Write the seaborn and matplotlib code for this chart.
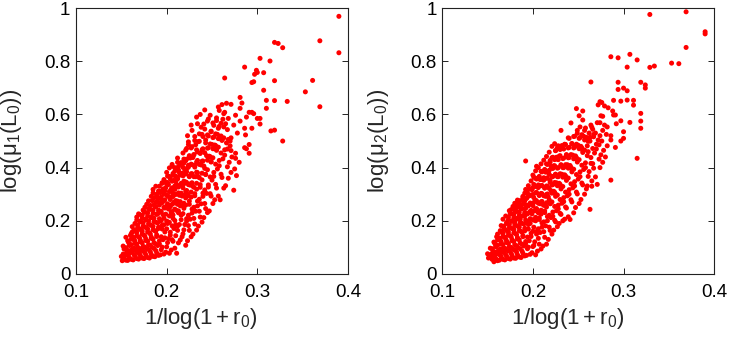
import numpy as np
import matplotlib
matplotlib.use("Agg")
import matplotlib.pyplot as plt
import seaborn as sns

sns.set_style("ticks")
plt.rcParams['font.family'] = ['Liberation Sans', 'DejaVu Sans']
plt.rcParams['mathtext.fontset'] = 'custom'
plt.rcParams['mathtext.rm'] = 'Liberation Sans'
plt.rcParams['mathtext.it'] = 'Liberation Sans:italic'
plt.rcParams['mathtext.default'] = 'regular'

# ---- data: left panel, log(mu1(L0)) vs 1/log(1+r0) ----
x1, y1 = [], []
x1 += [0.151, 0.153, 0.150, 0.152]
y1 += [0.050, 0.058, 0.066, 0.075]
x1 += [0.155, 0.152, 0.154, 0.156, 0.153, 0.152]
y1 += [0.052, 0.062, 0.071, 0.083, 0.094, 0.105]
x1 += [0.157, 0.159, 0.156, 0.158, 0.155, 0.159, 0.157, 0.155]
y1 += [0.051, 0.060, 0.074, 0.088, 0.099, 0.112, 0.125, 0.138]
x1 += [0.161, 0.158, 0.160, 0.162, 0.159, 0.158, 0.161, 0.160, 0.162]
y1 += [0.055, 0.066, 0.080, 0.093, 0.107, 0.118, 0.131, 0.145, 0.158]
x1 += [0.163, 0.165, 0.162, 0.164, 0.161, 0.165, 0.163, 0.161, 0.164, 0.162]
y1 += [0.053, 0.068, 0.084, 0.097, 0.110, 0.124, 0.139, 0.152, 0.166, 0.178]
x1 += [0.167, 0.164, 0.166, 0.168, 0.165, 0.164, 0.167, 0.166, 0.168, 0.165, 0.167]
y1 += [0.058, 0.072, 0.087, 0.101, 0.115, 0.129, 0.143, 0.160, 0.175, 0.190, 0.203]
x1 += [0.169, 0.171, 0.168, 0.170, 0.167, 0.171, 0.169, 0.167, 0.170, 0.168, 0.171, 0.167, 0.169]
y1 += [0.056, 0.069, 0.082, 0.096, 0.112, 0.127, 0.140, 0.156, 0.170, 0.185, 0.199, 0.214, 0.226]
x1 += [0.173, 0.170, 0.172, 0.174, 0.171, 0.170, 0.173, 0.172, 0.174, 0.171, 0.173, 0.170, 0.174]
y1 += [0.060, 0.075, 0.090, 0.104, 0.121, 0.136, 0.150, 0.165, 0.180, 0.196, 0.210, 0.224, 0.240]
x1 += [0.175, 0.177, 0.174, 0.176, 0.173, 0.177, 0.175, 0.173, 0.176, 0.174, 0.177, 0.173, 0.175, 0.176]
y1 += [0.058, 0.072, 0.086, 0.101, 0.117, 0.132, 0.146, 0.161, 0.177, 0.193, 0.207, 0.221, 0.236, 0.251]
x1 += [0.179, 0.176, 0.178, 0.180, 0.177, 0.176, 0.179, 0.178, 0.180, 0.177, 0.179, 0.176, 0.180, 0.178]
y1 += [0.062, 0.080, 0.095, 0.110, 0.126, 0.142, 0.158, 0.172, 0.188, 0.203, 0.218, 0.232, 0.246, 0.262]
x1 += [0.181, 0.183, 0.180, 0.182, 0.179, 0.183, 0.181, 0.179, 0.182, 0.180, 0.183, 0.179, 0.181, 0.182, 0.180]
y1 += [0.060, 0.074, 0.092, 0.108, 0.123, 0.139, 0.155, 0.170, 0.185, 0.200, 0.215, 0.230, 0.244, 0.258, 0.275]
x1 += [0.185, 0.182, 0.184, 0.186, 0.183, 0.182, 0.185, 0.184, 0.186, 0.183, 0.185, 0.182, 0.186, 0.184, 0.183, 0.185]
y1 += [0.066, 0.083, 0.100, 0.118, 0.134, 0.150, 0.166, 0.181, 0.197, 0.212, 0.228, 0.243, 0.260, 0.276, 0.292, 0.305]
x1 += [0.187, 0.189, 0.186, 0.188, 0.185, 0.189, 0.187, 0.185, 0.188, 0.186, 0.189, 0.185, 0.187, 0.188, 0.186, 0.189, 0.185]
y1 += [0.065, 0.079, 0.096, 0.113, 0.131, 0.147, 0.163, 0.179, 0.195, 0.210, 0.226, 0.241, 0.255, 0.270, 0.287, 0.300, 0.318]
x1 += [0.191, 0.188, 0.190, 0.192, 0.189, 0.188, 0.191, 0.190, 0.192, 0.189, 0.191, 0.188, 0.192, 0.190, 0.189, 0.191, 0.188]
y1 += [0.070, 0.088, 0.107, 0.125, 0.141, 0.160, 0.176, 0.192, 0.208, 0.224, 0.240, 0.253, 0.268, 0.283, 0.297, 0.312, 0.330]
x1 += [0.193, 0.195, 0.192, 0.194, 0.191, 0.195, 0.193, 0.191, 0.194, 0.192, 0.195, 0.191, 0.193, 0.194, 0.192, 0.195]
y1 += [0.072, 0.101, 0.113, 0.140, 0.171, 0.183, 0.199, 0.228, 0.236, 0.259, 0.277, 0.284, 0.306, 0.311, 0.330, 0.343]
x1 += [0.197, 0.194, 0.196, 0.198, 0.195, 0.194, 0.197, 0.196, 0.198, 0.195, 0.197, 0.194, 0.198, 0.196, 0.195, 0.197]
y1 += [0.075, 0.091, 0.129, 0.158, 0.169, 0.201, 0.210, 0.223, 0.248, 0.268, 0.275, 0.290, 0.313, 0.320, 0.341, 0.355]
x1 += [0.199, 0.201, 0.198, 0.200, 0.197, 0.201, 0.199, 0.197, 0.200, 0.198, 0.201, 0.197, 0.199, 0.200, 0.198, 0.201]
y1 += [0.082, 0.118, 0.136, 0.170, 0.185, 0.196, 0.225, 0.251, 0.256, 0.279, 0.292, 0.300, 0.324, 0.338, 0.347, 0.368]
x1 += [0.203, 0.200, 0.202, 0.204, 0.201, 0.200, 0.203, 0.202, 0.204, 0.201, 0.203, 0.200, 0.204, 0.202, 0.201, 0.203, 0.200]
y1 += [0.078, 0.102, 0.133, 0.157, 0.190, 0.199, 0.218, 0.244, 0.253, 0.264, 0.291, 0.298, 0.311, 0.336, 0.344, 0.367, 0.382]
x1 += [0.205, 0.207, 0.204, 0.206, 0.203, 0.207, 0.205, 0.203, 0.206, 0.204, 0.207, 0.203, 0.205, 0.206, 0.204, 0.207, 0.203, 0.206]
y1 += [0.090, 0.123, 0.146, 0.181, 0.194, 0.222, 0.231, 0.257, 0.262, 0.280, 0.303, 0.310, 0.319, 0.349, 0.358, 0.371, 0.399, 0.412]
x1 += [0.209, 0.206, 0.208, 0.210, 0.207, 0.206, 0.209, 0.208, 0.210, 0.207, 0.209, 0.206, 0.210, 0.208, 0.207, 0.209, 0.206]
y1 += [0.097, 0.129, 0.171, 0.186, 0.209, 0.235, 0.244, 0.270, 0.276, 0.291, 0.318, 0.324, 0.347, 0.352, 0.378, 0.387, 0.405]
x1 += [0.211, 0.213, 0.210, 0.212, 0.209, 0.213, 0.211, 0.209, 0.212, 0.210, 0.213, 0.209, 0.211, 0.212, 0.210, 0.213, 0.209, 0.212]
y1 += [0.078, 0.117, 0.144, 0.180, 0.201, 0.230, 0.239, 0.267, 0.274, 0.299, 0.305, 0.331, 0.336, 0.360, 0.368, 0.391, 0.400, 0.420]
x1 += [0.215, 0.212, 0.214, 0.216, 0.213, 0.212, 0.215, 0.214, 0.216, 0.213, 0.215, 0.212, 0.216, 0.214, 0.213, 0.215, 0.212]
y1 += [0.128, 0.164, 0.186, 0.221, 0.237, 0.262, 0.272, 0.296, 0.304, 0.327, 0.335, 0.357, 0.374, 0.381, 0.404, 0.414, 0.436]
x1 += [0.217, 0.219, 0.216, 0.218, 0.215, 0.219, 0.217, 0.215, 0.218, 0.216, 0.219, 0.215, 0.217, 0.218, 0.216, 0.219]
y1 += [0.140, 0.166, 0.204, 0.227, 0.256, 0.266, 0.293, 0.301, 0.324, 0.341, 0.349, 0.372, 0.379, 0.401, 0.419, 0.432]
x1 += [0.221, 0.218, 0.220, 0.222, 0.219, 0.218, 0.221, 0.220, 0.222, 0.219, 0.221, 0.218, 0.222, 0.220, 0.219, 0.221, 0.218, 0.222]
y1 += [0.108, 0.151, 0.186, 0.208, 0.247, 0.258, 0.286, 0.297, 0.314, 0.339, 0.346, 0.369, 0.385, 0.392, 0.417, 0.426, 0.455, 0.472]
x1 += [0.223, 0.225, 0.222, 0.224, 0.221, 0.225, 0.223, 0.221, 0.224, 0.222, 0.225, 0.221, 0.223, 0.224, 0.222, 0.225, 0.221, 0.224, 0.223]
y1 += [0.125, 0.164, 0.199, 0.221, 0.259, 0.274, 0.300, 0.311, 0.336, 0.344, 0.368, 0.376, 0.400, 0.409, 0.432, 0.440, 0.466, 0.487, 0.520]
x1 += [0.227, 0.224, 0.226, 0.228, 0.225, 0.224, 0.227, 0.226, 0.228, 0.225, 0.227, 0.224, 0.228, 0.226, 0.225, 0.227, 0.224, 0.228]
y1 += [0.140, 0.182, 0.206, 0.244, 0.262, 0.294, 0.308, 0.334, 0.343, 0.366, 0.377, 0.402, 0.411, 0.436, 0.445, 0.474, 0.497, 0.540]
x1 += [0.229, 0.231, 0.228, 0.230, 0.227, 0.231, 0.229, 0.227, 0.230, 0.228, 0.231, 0.227, 0.229, 0.230, 0.228, 0.231, 0.227]
y1 += [0.150, 0.188, 0.229, 0.251, 0.289, 0.302, 0.330, 0.341, 0.366, 0.377, 0.402, 0.413, 0.438, 0.449, 0.479, 0.502, 0.560]
x1 += [0.233, 0.230, 0.232, 0.234, 0.231, 0.230, 0.233, 0.232, 0.234, 0.231, 0.233, 0.230, 0.234, 0.232, 0.231, 0.233]
y1 += [0.165, 0.209, 0.236, 0.274, 0.294, 0.326, 0.341, 0.366, 0.381, 0.408, 0.421, 0.448, 0.459, 0.486, 0.517, 0.590]
x1 += [0.235, 0.237, 0.234, 0.236, 0.233, 0.237, 0.235, 0.233, 0.236, 0.234, 0.237, 0.233, 0.235, 0.236, 0.234]
y1 += [0.180, 0.214, 0.256, 0.281, 0.319, 0.336, 0.366, 0.383, 0.412, 0.427, 0.454, 0.467, 0.498, 0.527, 0.565]
x1 += [0.239, 0.236, 0.238, 0.240, 0.237, 0.236, 0.239, 0.238, 0.240, 0.237, 0.239, 0.236, 0.240, 0.238, 0.237]
y1 += [0.195, 0.236, 0.264, 0.304, 0.326, 0.362, 0.379, 0.410, 0.425, 0.454, 0.467, 0.499, 0.517, 0.552, 0.600]
x1 += [0.241, 0.243, 0.240, 0.242, 0.239, 0.243, 0.241, 0.239, 0.242, 0.240, 0.243, 0.239, 0.241, 0.242]
y1 += [0.212, 0.246, 0.292, 0.316, 0.354, 0.374, 0.406, 0.424, 0.456, 0.471, 0.504, 0.525, 0.564, 0.617]
x1 += [0.245, 0.242, 0.244, 0.246, 0.243, 0.242, 0.245, 0.244, 0.246, 0.243, 0.245, 0.242, 0.246]
y1 += [0.231, 0.265, 0.303, 0.335, 0.375, 0.397, 0.428, 0.445, 0.475, 0.493, 0.523, 0.545, 0.583]
x1 += [0.247, 0.249, 0.246, 0.248, 0.245, 0.249, 0.247, 0.245, 0.248, 0.246, 0.249, 0.245]
y1 += [0.237, 0.293, 0.327, 0.365, 0.392, 0.423, 0.443, 0.473, 0.489, 0.519, 0.537, 0.575]
x1 += [0.251, 0.248, 0.250, 0.252, 0.249, 0.248, 0.251, 0.250, 0.252, 0.249, 0.251, 0.248]
y1 += [0.265, 0.302, 0.353, 0.382, 0.421, 0.441, 0.471, 0.487, 0.515, 0.535, 0.568, 0.597]
x1 += [0.253, 0.255, 0.252, 0.254, 0.251, 0.255, 0.253, 0.251, 0.254, 0.252, 0.255]
y1 += [0.279, 0.323, 0.367, 0.413, 0.437, 0.468, 0.485, 0.513, 0.527, 0.559, 0.587]
x1 += [0.257, 0.254, 0.256, 0.258, 0.255, 0.254, 0.257, 0.256, 0.258, 0.255, 0.257]
y1 += [0.293, 0.337, 0.395, 0.427, 0.465, 0.483, 0.509, 0.525, 0.555, 0.577, 0.628]
x1 += [0.259, 0.261, 0.258, 0.260, 0.257, 0.261, 0.259, 0.257, 0.260, 0.258, 0.261]
y1 += [0.279, 0.363, 0.407, 0.455, 0.477, 0.503, 0.517, 0.548, 0.567, 0.615, 0.637]
x1 += [0.263, 0.260, 0.262, 0.264, 0.261, 0.260, 0.263, 0.262, 0.264]
y1 += [0.323, 0.375, 0.433, 0.467, 0.503, 0.519, 0.553, 0.582, 0.608]
x1 += [0.265, 0.267, 0.264, 0.266, 0.263, 0.267, 0.265, 0.263, 0.266, 0.264]
y1 += [0.332, 0.403, 0.447, 0.493, 0.512, 0.543, 0.565, 0.603, 0.642, 0.737]
x1 += [0.268, 0.269, 0.267, 0.268, 0.271, 0.272, 0.270, 0.274, 0.275, 0.277, 0.276, 0.280]
y1 += [0.360, 0.420, 0.470, 0.506, 0.382, 0.440, 0.482, 0.315, 0.395, 0.370, 0.435, 0.420]
# sparse upper-right points
x1 += [0.390, 0.390, 0.369, 0.361, 0.353, 0.369, 0.333, 0.328, 0.319, 0.323, 0.328, 0.314,
       0.303, 0.286, 0.299, 0.300, 0.297, 0.307, 0.294, 0.296, 0.319, 0.307, 0.319, 0.310,
       0.310, 0.281, 0.283, 0.281, 0.271, 0.291, 0.294, 0.296, 0.300, 0.303, 0.303, 0.288,
       0.276, 0.281, 0.315, 0.319, 0.286, 0.294, 0.287, 0.270, 0.271, 0.291, 0.286, 0.288,
       0.291, 0.276, 0.271, 0.278, 0.274, 0.268]
y1 += [0.969, 0.832, 0.877, 0.728, 0.685, 0.629, 0.649, 0.500, 0.871, 0.867, 0.851, 0.801,
       0.811, 0.778, 0.766, 0.758, 0.751, 0.757, 0.720, 0.723, 0.727, 0.691, 0.652, 0.653,
       0.623, 0.664, 0.643, 0.623, 0.638, 0.608, 0.608, 0.603, 0.585, 0.585, 0.564, 0.590,
       0.597, 0.575, 0.538, 0.541, 0.548, 0.548, 0.523, 0.500, 0.512, 0.487, 0.475, 0.471,
       0.454, 0.454, 0.464, 0.530, 0.560, 0.585]

# ---- right panel, log(mu2(L0)) vs 1/log(1+r0) ----
x2, y2 = [], []
x2 += [0.151, 0.153, 0.150]
y2 += [0.060, 0.068, 0.076]
x2 += [0.155, 0.152, 0.154, 0.156, 0.153]
y2 += [0.055, 0.065, 0.075, 0.086, 0.097]
x2 += [0.157, 0.159, 0.156, 0.158, 0.155, 0.159, 0.157]
y2 += [0.046, 0.058, 0.070, 0.082, 0.095, 0.108, 0.120]
x2 += [0.161, 0.158, 0.160, 0.162, 0.159, 0.158, 0.161, 0.160]
y2 += [0.050, 0.062, 0.075, 0.089, 0.102, 0.115, 0.128, 0.140]
x2 += [0.163, 0.165, 0.162, 0.164, 0.161, 0.165, 0.163, 0.161, 0.164]
y2 += [0.052, 0.066, 0.080, 0.094, 0.108, 0.121, 0.135, 0.150, 0.163]
x2 += [0.167, 0.164, 0.166, 0.168, 0.165, 0.164, 0.167, 0.166, 0.168, 0.165]
y2 += [0.055, 0.070, 0.084, 0.098, 0.113, 0.127, 0.141, 0.156, 0.170, 0.182]
x2 += [0.169, 0.171, 0.168, 0.170, 0.167, 0.171, 0.169, 0.167, 0.170, 0.168, 0.171, 0.167]
y2 += [0.053, 0.067, 0.081, 0.095, 0.110, 0.124, 0.138, 0.152, 0.166, 0.180, 0.194, 0.206]
x2 += [0.173, 0.170, 0.172, 0.174, 0.171, 0.170, 0.173, 0.172, 0.174, 0.171, 0.173, 0.170, 0.174]
y2 += [0.058, 0.073, 0.088, 0.103, 0.118, 0.132, 0.146, 0.160, 0.175, 0.190, 0.204, 0.218, 0.238]
x2 += [0.175, 0.177, 0.174, 0.176, 0.173, 0.177, 0.175, 0.173, 0.176, 0.174, 0.177, 0.173, 0.175, 0.176]
y2 += [0.056, 0.070, 0.086, 0.100, 0.115, 0.130, 0.144, 0.158, 0.172, 0.186, 0.200, 0.214, 0.228, 0.242]
x2 += [0.179, 0.176, 0.178, 0.180, 0.177, 0.176, 0.179, 0.178, 0.180, 0.177, 0.179, 0.176, 0.180, 0.178]
y2 += [0.060, 0.078, 0.094, 0.110, 0.125, 0.140, 0.155, 0.170, 0.184, 0.198, 0.212, 0.226, 0.240, 0.254]
x2 += [0.181, 0.183, 0.180, 0.182, 0.179, 0.183, 0.181, 0.179, 0.182, 0.180, 0.183, 0.179, 0.181, 0.182, 0.180]
y2 += [0.059, 0.072, 0.090, 0.106, 0.122, 0.137, 0.152, 0.167, 0.182, 0.196, 0.210, 0.224, 0.238, 0.252, 0.266]
x2 += [0.185, 0.182, 0.184, 0.186, 0.183, 0.182, 0.185, 0.184, 0.186, 0.183, 0.185, 0.182, 0.186, 0.184, 0.183]
y2 += [0.064, 0.082, 0.098, 0.116, 0.132, 0.148, 0.163, 0.178, 0.193, 0.207, 0.221, 0.235, 0.249, 0.263, 0.278]
x2 += [0.187, 0.189, 0.186, 0.188, 0.185, 0.189, 0.187, 0.185, 0.188, 0.186, 0.189, 0.185, 0.187, 0.188, 0.186, 0.189]
y2 += [0.062, 0.078, 0.095, 0.112, 0.128, 0.144, 0.160, 0.176, 0.190, 0.205, 0.219, 0.233, 0.247, 0.261, 0.276, 0.292]
x2 += [0.191, 0.188, 0.190, 0.192, 0.189, 0.188, 0.191, 0.190, 0.192, 0.189, 0.191, 0.188, 0.192, 0.190, 0.189, 0.191, 0.192]
y2 += [0.068, 0.086, 0.105, 0.122, 0.140, 0.157, 0.172, 0.188, 0.203, 0.218, 0.232, 0.246, 0.260, 0.274, 0.288, 0.304, 0.425]
x2 += [0.193, 0.195, 0.192, 0.194, 0.191, 0.195, 0.193, 0.191, 0.194, 0.192, 0.195, 0.191, 0.193, 0.194, 0.192]
y2 += [0.070, 0.101, 0.114, 0.139, 0.162, 0.186, 0.195, 0.218, 0.226, 0.247, 0.256, 0.275, 0.284, 0.305, 0.318]
x2 += [0.197, 0.194, 0.196, 0.198, 0.195, 0.194, 0.197, 0.196, 0.198, 0.195, 0.197, 0.194, 0.198, 0.196, 0.195]
y2 += [0.074, 0.095, 0.125, 0.153, 0.169, 0.197, 0.208, 0.231, 0.239, 0.259, 0.267, 0.289, 0.297, 0.319, 0.332]
x2 += [0.199, 0.201, 0.198, 0.200, 0.197, 0.201, 0.199, 0.197, 0.200, 0.198, 0.201, 0.197, 0.199, 0.200, 0.198, 0.201]
y2 += [0.080, 0.107, 0.141, 0.161, 0.190, 0.203, 0.226, 0.235, 0.257, 0.265, 0.287, 0.295, 0.317, 0.325, 0.350, 0.364]
x2 += [0.203, 0.200, 0.202, 0.204, 0.201, 0.200, 0.203, 0.202, 0.204, 0.201, 0.203, 0.200, 0.204, 0.202, 0.201, 0.203, 0.200, 0.204]
y2 += [0.072, 0.103, 0.121, 0.160, 0.176, 0.204, 0.213, 0.238, 0.246, 0.269, 0.277, 0.299, 0.307, 0.329, 0.337, 0.360, 0.372, 0.405]
x2 += [0.205, 0.207, 0.204, 0.206, 0.203, 0.207, 0.205, 0.203, 0.206, 0.204, 0.207, 0.203, 0.205, 0.206, 0.204, 0.207, 0.203]
y2 += [0.086, 0.112, 0.150, 0.170, 0.200, 0.211, 0.235, 0.244, 0.266, 0.275, 0.297, 0.305, 0.327, 0.335, 0.357, 0.367, 0.388]
x2 += [0.209, 0.206, 0.208, 0.210, 0.207, 0.206, 0.209, 0.208, 0.210, 0.207, 0.209, 0.206, 0.210, 0.208, 0.207, 0.209, 0.206]
y2 += [0.094, 0.134, 0.156, 0.192, 0.205, 0.230, 0.240, 0.264, 0.273, 0.295, 0.303, 0.325, 0.333, 0.355, 0.363, 0.386, 0.400]
x2 += [0.211, 0.213, 0.210, 0.212, 0.209, 0.213, 0.211, 0.209, 0.212, 0.210, 0.213, 0.209, 0.211, 0.212, 0.210, 0.213, 0.209]
y2 += [0.105, 0.138, 0.176, 0.196, 0.225, 0.237, 0.262, 0.271, 0.294, 0.302, 0.324, 0.332, 0.354, 0.362, 0.384, 0.393, 0.414]
x2 += [0.215, 0.212, 0.214, 0.216, 0.213, 0.212, 0.215, 0.214, 0.216, 0.213, 0.215, 0.212, 0.216, 0.214, 0.213, 0.215, 0.212]
y2 += [0.112, 0.159, 0.181, 0.216, 0.231, 0.258, 0.268, 0.292, 0.301, 0.323, 0.331, 0.353, 0.361, 0.383, 0.391, 0.414, 0.428]
x2 += [0.217, 0.219, 0.216, 0.218, 0.215, 0.219, 0.217, 0.215, 0.218, 0.216, 0.219, 0.215, 0.217, 0.218, 0.216, 0.219, 0.215]
y2 += [0.130, 0.164, 0.200, 0.221, 0.252, 0.265, 0.290, 0.299, 0.322, 0.330, 0.352, 0.360, 0.382, 0.390, 0.412, 0.421, 0.442]
x2 += [0.221, 0.218, 0.220, 0.222, 0.219, 0.218, 0.221, 0.220, 0.222, 0.219, 0.221, 0.218, 0.222, 0.220, 0.219, 0.221, 0.218]
y2 += [0.150, 0.176, 0.212, 0.233, 0.264, 0.279, 0.304, 0.313, 0.336, 0.345, 0.367, 0.375, 0.397, 0.405, 0.427, 0.437, 0.458]
x2 += [0.223, 0.225, 0.222, 0.224, 0.221, 0.225, 0.223, 0.221, 0.224, 0.222, 0.225, 0.221, 0.223, 0.224, 0.222, 0.225, 0.221]
y2 += [0.165, 0.196, 0.217, 0.254, 0.271, 0.300, 0.311, 0.335, 0.344, 0.366, 0.375, 0.398, 0.407, 0.430, 0.439, 0.464, 0.480]
x2 += [0.227, 0.224, 0.226, 0.228, 0.225, 0.224, 0.227, 0.226, 0.228, 0.225, 0.227, 0.224, 0.228, 0.226, 0.225, 0.227, 0.224]
y2 += [0.178, 0.202, 0.238, 0.259, 0.292, 0.307, 0.332, 0.343, 0.366, 0.375, 0.398, 0.407, 0.430, 0.439, 0.464, 0.475, 0.490]
x2 += [0.229, 0.231, 0.228, 0.230, 0.227, 0.231, 0.229, 0.227, 0.230, 0.228, 0.231, 0.227, 0.229, 0.230, 0.228]
y2 += [0.190, 0.224, 0.245, 0.280, 0.297, 0.328, 0.341, 0.366, 0.377, 0.400, 0.409, 0.432, 0.443, 0.468, 0.482]
x2 += [0.233, 0.230, 0.232, 0.234, 0.231, 0.230, 0.233, 0.232, 0.234, 0.231, 0.233, 0.230, 0.234, 0.232, 0.231]
y2 += [0.200, 0.228, 0.266, 0.287, 0.320, 0.337, 0.364, 0.375, 0.400, 0.411, 0.434, 0.445, 0.470, 0.483, 0.540]
x2 += [0.235, 0.237, 0.234, 0.236, 0.233, 0.237, 0.235, 0.233, 0.236, 0.234, 0.237, 0.233, 0.235]
y2 += [0.206, 0.248, 0.272, 0.308, 0.329, 0.360, 0.373, 0.400, 0.411, 0.436, 0.447, 0.472, 0.488]
x2 += [0.239, 0.236, 0.238, 0.240, 0.237, 0.236, 0.239, 0.238, 0.240, 0.237, 0.239, 0.236, 0.240]
y2 += [0.215, 0.252, 0.294, 0.317, 0.352, 0.369, 0.398, 0.411, 0.438, 0.449, 0.474, 0.487, 0.510]
x2 += [0.241, 0.243, 0.240, 0.242, 0.239, 0.243, 0.241, 0.239, 0.242, 0.240, 0.243, 0.239]
y2 += [0.205, 0.271, 0.300, 0.339, 0.361, 0.394, 0.408, 0.437, 0.449, 0.476, 0.489, 0.512]
x2 += [0.245, 0.242, 0.244, 0.246, 0.243, 0.242, 0.245, 0.244, 0.246, 0.243, 0.245, 0.242]
y2 += [0.230, 0.279, 0.324, 0.347, 0.384, 0.401, 0.433, 0.447, 0.477, 0.491, 0.517, 0.568]
x2 += [0.247, 0.249, 0.246, 0.248, 0.245, 0.249, 0.247, 0.245, 0.248, 0.246, 0.249]
y2 += [0.250, 0.301, 0.331, 0.374, 0.394, 0.429, 0.444, 0.474, 0.488, 0.518, 0.540]
x2 += [0.251, 0.248, 0.250, 0.252, 0.249, 0.248, 0.251, 0.250, 0.252, 0.249, 0.251, 0.248]
y2 += [0.265, 0.308, 0.357, 0.384, 0.421, 0.438, 0.471, 0.484, 0.513, 0.529, 0.595, 0.622]
x2 += [0.253, 0.255, 0.252, 0.254, 0.251, 0.255, 0.253, 0.251, 0.254, 0.252, 0.255]
y2 += [0.280, 0.335, 0.366, 0.409, 0.430, 0.464, 0.480, 0.510, 0.524, 0.553, 0.613]
x2 += [0.257, 0.254, 0.256, 0.258, 0.255, 0.254, 0.257, 0.256, 0.258, 0.255]
y2 += [0.300, 0.342, 0.393, 0.418, 0.457, 0.474, 0.504, 0.518, 0.549, 0.579]
x2 += [0.259, 0.261, 0.258, 0.260, 0.257, 0.261, 0.259, 0.257]
y2 += [0.320, 0.367, 0.400, 0.445, 0.466, 0.499, 0.514, 0.540]
x2 += [0.263, 0.260, 0.262, 0.264, 0.261, 0.260, 0.263, 0.262, 0.264]
y2 += [0.243, 0.331, 0.385, 0.416, 0.460, 0.482, 0.514, 0.530, 0.560]
x2 += [0.265, 0.267, 0.264, 0.266, 0.263, 0.267, 0.265]
y2 += [0.350, 0.398, 0.438, 0.472, 0.500, 0.525, 0.552]
x2 += [0.269, 0.266, 0.268, 0.270, 0.267, 0.266]
y2 += [0.365, 0.415, 0.455, 0.488, 0.516, 0.544]
x2 += [0.271, 0.273, 0.270, 0.272, 0.269]
y2 += [0.337, 0.432, 0.470, 0.504, 0.530]
x2 += [0.274, 0.275, 0.273, 0.274, 0.277, 0.278, 0.276, 0.277, 0.280, 0.281, 0.279]
y2 += [0.400, 0.448, 0.486, 0.520, 0.420, 0.465, 0.500, 0.540, 0.440, 0.525, 0.560]
# sparse upper-right points
x2 += [0.329, 0.369, 0.390, 0.390, 0.369, 0.286, 0.294, 0.307, 0.315, 0.304, 0.329, 0.334,
       0.353, 0.361, 0.264, 0.294, 0.300, 0.304, 0.294, 0.319, 0.324, 0.324, 0.289, 0.297,
       0.304, 0.311, 0.311, 0.274, 0.276, 0.272, 0.279, 0.283, 0.288, 0.289, 0.291, 0.275,
       0.277, 0.319, 0.319, 0.319, 0.307, 0.297, 0.292, 0.300, 0.300, 0.297, 0.286, 0.286,
       0.282, 0.282, 0.291, 0.271, 0.274, 0.315, 0.286, 0.265]
y2 += [0.976, 0.986, 0.911, 0.903, 0.852, 0.817, 0.813, 0.826, 0.805, 0.778, 0.777, 0.782,
       0.793, 0.791, 0.722, 0.721, 0.699, 0.689, 0.694, 0.721, 0.711, 0.699, 0.653, 0.650,
       0.654, 0.653, 0.635, 0.648, 0.645, 0.636, 0.632, 0.625, 0.613, 0.598, 0.598, 0.595,
       0.593, 0.604, 0.575, 0.548, 0.570, 0.576, 0.565, 0.535, 0.510, 0.500, 0.520, 0.504,
       0.553, 0.482, 0.476, 0.569, 0.569, 0.435, 0.353, 0.330]

assert len(x1) == len(y1), (len(x1), len(y1))
assert len(x2) == len(y2), (len(x2), len(y2))

x_ticks = [0.1, 0.2, 0.3, 0.4]
x_tick_labels = ['0.1', '0.2', '0.3', '0.4']
y_ticks = [0, 0.2, 0.4, 0.6, 0.8, 1]
y_tick_labels = ['0', '0.2', '0.4', '0.6', '0.8', '1']
x_label = r'$1/\log(1+r_0)$'
y_labels = [r'$\log(\mu_1(L_0))$', r'$\log(\mu_2(L_0))$']

fig = plt.figure(figsize=(7.31, 3.37), dpi=100)
ax1 = fig.add_axes([0.104, 0.187, 0.372, 0.789])
ax2 = fig.add_axes([0.605, 0.187, 0.372, 0.789])

for ax, xs, ys, ylab in [(ax1, x1, y1, y_labels[0]), (ax2, x2, y2, y_labels[1])]:
    sns.scatterplot(x=xs, y=ys, ax=ax, color='#ff0000', s=13, linewidth=0, edgecolor='none')
    ax.set_xlim(0.1, 0.4)
    ax.set_ylim(0, 1)
    ax.set_xticks(x_ticks)
    ax.set_xticklabels(x_tick_labels)
    ax.set_yticks(y_ticks)
    ax.set_yticklabels(y_tick_labels)
    ax.tick_params(direction='in', top=True, right=True, length=4, width=0.6,
                   labelsize=13.5, colors='black')
    ax.tick_params(axis='x', pad=7)
    ax.tick_params(axis='y', pad=4)
    for sp in ax.spines.values():
        sp.set_visible(True)
        sp.set_linewidth(0.8)
        sp.set_color('#222222')
    ax.set_xlabel(x_label, fontsize=16)
    ax.set_ylabel(ylab, fontsize=16)
    ax.xaxis.set_label_coords(0.46, -0.12)
    ax.yaxis.set_label_coords(-0.19, 0.5)

fig.savefig('out.png', dpi=100, facecolor='white')
